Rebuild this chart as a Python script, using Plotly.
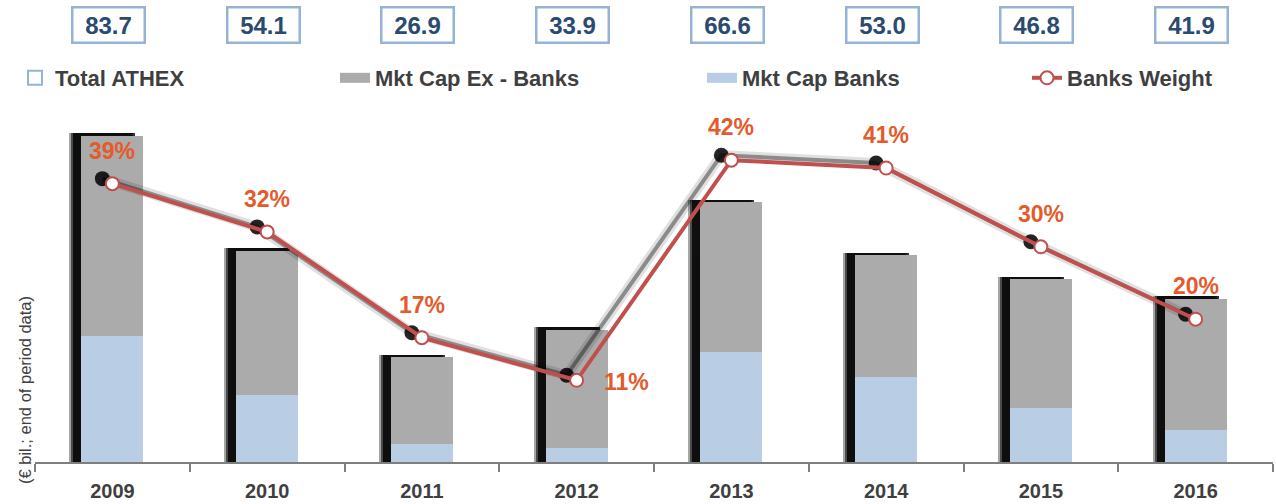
import plotly.graph_objects as go

# ---------------- data ----------------
years = [2009, 2010, 2011, 2012, 2013, 2014, 2015, 2016]
totals = [83.7, 54.1, 26.9, 33.9, 66.6, 53.0, 46.8, 41.9]          # Total ATHEX (€ bn)
banks = [32.4, 17.2, 4.6, 3.6, 28.1, 21.7, 13.9, 8.1]              # Mkt Cap Banks (€ bn)
weights = [38.7, 31.9, 17.0, 11.0, 42.0, 40.9, 29.8, 19.6]         # Banks Weight (%)
ex_banks = [round(t - b, 1) for t, b in zip(totals, banks)]        # Mkt Cap Ex - Banks

# ---------------- styling ----------------
W, H = 1276, 504
ML, MR, MT, MB = 35, 3, 100, 42
PW, PH = W - ML - MR, H - MT - MB
PX_PER_YEAR = PW / len(years)
Y1_MAX = 92.8
Y2_MIN, Y2_MAX = -0.51, 50.48
PX_PER_UNIT = PH / Y1_MAX
PX_PER_PCT = PH / (Y2_MAX - Y2_MIN)

FONT = "Liberation Sans, Arial, sans-serif"
GRAY = "#ABABAB"
BLUE = "#B9CDE5"
RED = "#C0504D"
ORANGE = "#E55A2B"
TXT = "#3F3F3F"
BOX_BORDER = "#95B3D7"
BOX_TXT = "#2B4A6F"

BAR_W = 0.40
BAR_OFF = -BAR_W / 2

fig = go.Figure()

# bar shadows (soft black strip on the left / top)
for shift_px, op in [(12, 0.35), (10, 0.55), (8, 0.8)]:
    fig.add_trace(go.Bar(
        x=years, y=[t + 2.5 / PX_PER_UNIT for t in totals],
        width=BAR_W, offset=BAR_OFF - shift_px / PX_PER_YEAR,
        marker=dict(color="black", line=dict(width=0)), opacity=op,
        showlegend=False, hoverinfo="skip",
    ))

# stacked bars (drawn as overlay with explicit base)
fig.add_trace(go.Bar(
    x=years, y=banks, width=BAR_W, offset=BAR_OFF,
    marker=dict(color=BLUE, line=dict(width=0)),
    name="Mkt Cap Banks", showlegend=False,
))
fig.add_trace(go.Bar(
    x=years, y=ex_banks, base=banks, width=BAR_W, offset=BAR_OFF,
    marker=dict(color=GRAY, line=dict(width=0)),
    name="Mkt Cap Ex - Banks", showlegend=False,
))

# line shadow
sx = [y - 10 / PX_PER_YEAR for y in years]
sy = [w + 5 / PX_PER_PCT for w in weights]
fig.add_trace(go.Scatter(
    x=sx, y=sy, yaxis="y2", mode="lines",
    line=dict(color="rgba(0,0,0,0.12)", width=10),
    showlegend=False, hoverinfo="skip",
))
fig.add_trace(go.Scatter(
    x=sx, y=sy, yaxis="y2", mode="lines+markers",
    line=dict(color="rgba(0,0,0,0.38)", width=4),
    marker=dict(size=15, color="rgba(0,0,0,0.85)", line=dict(width=0)),
    showlegend=False, hoverinfo="skip",
))

# banks weight line
fig.add_trace(go.Scatter(
    x=years, y=weights, yaxis="y2", mode="lines+markers",
    line=dict(color=RED, width=4),
    marker=dict(size=13, color="white", line=dict(color=RED, width=2)),
    name="Banks Weight", legend="legend4",
))

# legend proxies
fig.add_trace(go.Scatter(
    x=[None], y=[None], mode="markers",
    marker=dict(symbol="square-open", size=14, color=BOX_BORDER, line=dict(width=2)),
    name="Total ATHEX", legend="legend",
))
fig.add_trace(go.Scatter(
    x=[None], y=[None], mode="lines", line=dict(color=GRAY, width=15),
    name="Mkt Cap Ex - Banks", legend="legend2",
))
fig.add_trace(go.Scatter(
    x=[None], y=[None], mode="lines", line=dict(color=BLUE, width=15),
    name="Mkt Cap Banks", legend="legend3",
))

annotations = []
# percentage labels
for yr, w in zip(years, weights):
    side = w == min(weights)
    annotations.append(dict(
        x=yr, y=w, xref="x", yref="y2", text=f"{w:.0f}%", showarrow=False,
        xanchor="center", yanchor="middle",
        font=dict(family=FONT, size=23, color=ORANGE, weight="bold"),
        xshift=50 if side else 0, yshift=-2 if side else 33,
    ))
# Total ATHEX boxes
for yr, t in zip(years, totals):
    annotations.append(dict(
        x=yr, y=(H - MB - 25) / PH, xref="x", yref="paper", text=f"{t:.1f}", showarrow=False,
        xanchor="center", yanchor="middle",
        font=dict(family=FONT, size=24, color=BOX_TXT, weight="bold"),
        bordercolor=BOX_BORDER, borderwidth=2.5, bgcolor="white",
        width=68, height=31, xshift=-4,
    ))
# y-axis title
annotations.append(dict(
    x=(25 - ML) / PW, y=(H - MB - 390) / PH, xref="paper", yref="paper",
    xanchor="center", yanchor="middle",
    text="(€ bil.; end of period data)",
    textangle=-90, showarrow=False,
    font=dict(family=FONT, size=16.5, color="#404040"),
))

leg_common = dict(orientation="h", yanchor="middle", y=1 - 78 / H, xanchor="left",
                  xref="container", yref="container",
                  bgcolor="rgba(0,0,0,0)", borderwidth=0,
                  font=dict(family=FONT, size=22, color=TXT, weight="bold"))

fig.update_layout(
    width=W, height=H,
    margin=dict(l=ML, r=MR, t=MT, b=MB, autoexpand=False),
    paper_bgcolor="white", plot_bgcolor="white",
    barmode="overlay", bargap=0,
    showlegend=True,
    legend=dict(x=15 / W, **leg_common),
    legend2=dict(x=335 / W, **leg_common),
    legend3=dict(x=702 / W, **leg_common),
    legend4=dict(x=1027 / W, **leg_common),
    xaxis=dict(
        range=[years[0] - 0.5, years[-1] + 0.5],
        tickvals=years, ticktext=[str(y) for y in years],
        ticks="outside", ticklen=10, tickcolor="rgba(0,0,0,0)",
        showline=True, linecolor="#7F7F7F", linewidth=1.5,
        showgrid=False, zeroline=False,
        tickfont=dict(family=FONT, size=20, color=TXT, weight="bold"),
        minor=dict(ticks="outside", ticklen=8, tickcolor="#7F7F7F", tickwidth=1.5,
                   tick0=years[0] - 0.5, dtick=1, showgrid=False),
    ),
    yaxis=dict(range=[0, Y1_MAX], visible=False, showgrid=False, zeroline=False),
    yaxis2=dict(range=[Y2_MIN, Y2_MAX], overlaying="y", side="right",
                visible=False, showgrid=False, zeroline=False),
    annotations=annotations,
)

fig.write_html(
    "out.html",
    config={"displayModeBar": False},
    post_script="document.body.style.margin='0';document.body.style.overflow='hidden';",
)
